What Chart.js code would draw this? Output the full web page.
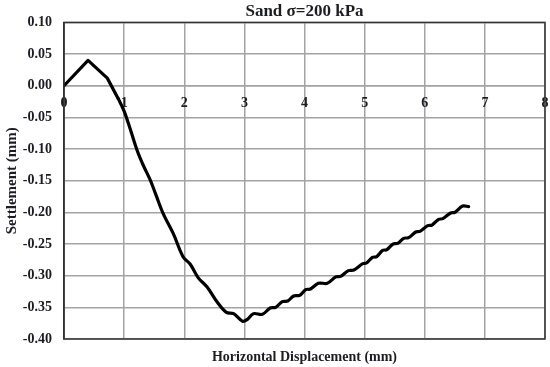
<!DOCTYPE html>
<html>
<head>
<meta charset="utf-8">
<script src="https://cdn.jsdelivr.net/npm/chart.js@4"></script>
<style>
  html, body { margin: 0; padding: 0; background: #fff; }
  #wrap { width: 550px; height: 367px; }
</style>
</head>
<body>
<div id="wrap"><canvas id="c" width="550" height="367"></canvas></div>
<script>
const chartTitle = 'Sand \u03C3=200 kPa';
const xTitle = 'Horizontal Displacement (mm)';
const yTitle = 'Settlement (mm)';
const xTickValues = [0, 1, 2, 3, 4, 5, 6, 7, 8];
const yTickValues = [0.10, 0.05, 0.00, -0.05, -0.10, -0.15, -0.20, -0.25, -0.30, -0.35, -0.40];

const displacement = [0, 0.4, 0.72, 0.9, 1.0, 1.1, 1.22, 1.32, 1.43, 1.52, 1.65, 1.82, 1.98, 2.1, 2.23, 2.38, 2.55, 2.7, 2.82, 2.97, 3.05, 3.15, 3.3, 3.43, 3.52, 3.63, 3.72, 3.82, 3.92, 4.02, 4.1, 4.23, 4.38, 4.52, 4.6, 4.73, 4.82, 4.97, 5.03, 5.13, 5.2, 5.3, 5.37, 5.47, 5.55, 5.65, 5.73, 5.85, 5.92, 6.05, 6.12, 6.23, 6.3, 6.43, 6.5, 6.63, 6.73];
const settlement = [0, 0.04, 0.012, -0.02, -0.04, -0.068, -0.103, -0.126, -0.148, -0.17, -0.202, -0.234, -0.27, -0.282, -0.303, -0.318, -0.342, -0.358, -0.36, -0.372, -0.369, -0.36, -0.361, -0.351, -0.35, -0.341, -0.34, -0.332, -0.331, -0.322, -0.321, -0.312, -0.312, -0.302, -0.301, -0.292, -0.291, -0.281, -0.28, -0.271, -0.27, -0.26, -0.259, -0.25, -0.249, -0.241, -0.24, -0.231, -0.23, -0.221, -0.22, -0.211, -0.21, -0.201, -0.2, -0.19, -0.191];

const points = displacement.map((x, i) => ({ x: x, y: settlement[i] }));
const sharpCount = 4; // first straight segments (sharp peak)

const serif = "'Liberation Serif', 'DejaVu Serif', serif";
const gridGray = '#a3a3a3';
const textColor = '#1c1c24';

const framePlugin = {
  id: 'frame',
  afterDatasetsDraw(chart) {
    const { ctx, chartArea: a } = chart;
    ctx.save();
    ctx.strokeStyle = '#333333';
    ctx.lineWidth = 1.5;
    ctx.strokeRect(a.left, a.top, a.right - a.left, a.bottom - a.top);
    ctx.restore();
  }
};

const lineStyle = {
  showLine: true,
  borderColor: '#000',
  borderWidth: 3.2,
  pointRadius: 0,
  fill: false,
  borderCapStyle: 'round',
  borderJoinStyle: 'round'
};

new Chart(document.getElementById('c'), {
  type: 'scatter',
  data: {
    datasets: [
      Object.assign({ data: points.slice(0, sharpCount), tension: 0 }, lineStyle),
      Object.assign({ data: points.slice(sharpCount - 1), tension: 0.35 }, lineStyle)
    ]
  },
  options: {
    responsive: false,
    animation: false,
    layout: { padding: { left: 0, right: 5, top: 0, bottom: 0 } },
    plugins: {
      legend: { display: false },
      tooltip: { enabled: false },
      title: {
        display: true,
        text: chartTitle,
        fullSize: false,
        color: textColor,
        font: { family: serif, size: 17, weight: 'bold' },
        padding: { top: 1, bottom: 1 }
      }
    },
    scales: {
      x: {
        type: 'linear',
        position: { y: 0 },
        min: 0, max: 8,
        afterBuildTicks: (s) => { s.ticks = xTickValues.map(v => ({ value: v })); },
        afterFit: (s) => { s.paddingLeft = 0; s.paddingRight = 0; },
        grid: { color: gridGray, lineWidth: 1.5, drawTicks: false },
        border: { color: gridGray, width: 1.5 },
        ticks: {
          color: textColor,
          font: { family: serif, size: 14, weight: 'bold' },
          padding: 9,
          maxRotation: 0,
          callback: (v) => String(v)
        }
      },
      x2: {
        type: 'linear',
        position: 'bottom',
        min: 0, max: 8,
        afterFit: (s) => { s.paddingLeft = 0; s.paddingRight = 0; },
        grid: { display: false, drawTicks: false },
        border: { display: false },
        ticks: { display: false },
        title: {
          display: true,
          text: xTitle,
          color: textColor,
          font: { family: serif, size: 14, weight: 'bold' },
          padding: { top: 9.6, bottom: 1.6 }
        }
      },
      y: {
        type: 'linear',
        position: 'left',
        min: -0.4, max: 0.1,
        afterBuildTicks: (s) => { s.ticks = yTickValues.map(v => ({ value: v })); },
        afterFit: (s) => { s.width = 64; },
        grid: { color: gridGray, lineWidth: 1.5, drawTicks: false },
        border: { color: '#333333', width: 1.5 },
        ticks: {
          color: textColor,
          font: { family: serif, size: 14, weight: 'bold' },
          padding: 12,
          callback: (v) => Number(v).toFixed(2)
        },
        title: {
          display: true,
          text: yTitle,
          color: textColor,
          font: { family: serif, size: 15, weight: 'bold' },
          padding: { top: 3, bottom: 1 }
        }
      }
    }
  },
  plugins: [framePlugin]
});
</script>
</body>
</html>
